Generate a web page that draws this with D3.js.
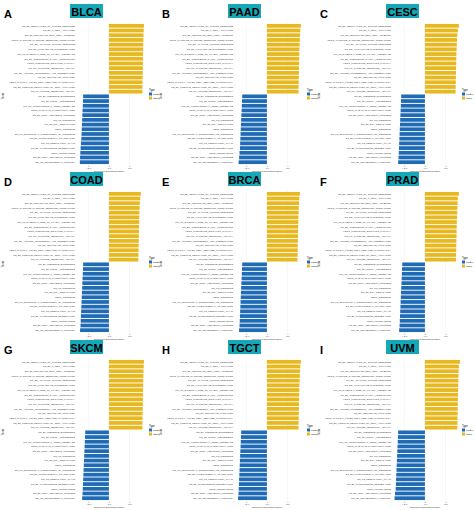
<!DOCTYPE html>
<html><head><meta charset="utf-8">
<script src="https://cdn.jsdelivr.net/npm/d3@7"></script>
<style>body{margin:0;background:#fff}svg{font-family:Arial,"Liberation Sans",sans-serif}</style>
</head><body><svg id="fig" width="474" height="510"></svg>
<script>
// Data
const cancers = ["BLCA","PAAD","CESC","COAD","BRCA","PRAD","SKCM","TGCT","UVM"];
const letters = ["A","B","C","D","E","F","G","H","I"];
const posTerms = ["GO_BP_REGULATION_OF_IMMUNE_RESPONSE","GO_BP_T_CELL_ACTIVATION","GO_BP_LEUKOCYTE_CELL_CELL_ADHESION","KEGG_CYTOKINE_CYTOKINE_RECEPTOR_INTERACTION","GO_BP_ADAPTIVE_IMMUNE_RESPONSE","GO_BP_LYMPHOCYTE_DIFFERENTIATION","GO_CC_EXTERNAL_SIDE_OF_PLASMA_MEMBRANE","GO_BP_INTERFERON_GAMMA_PRODUCTION","KEGG_CHEMOKINE_SIGNALING_PATHWAY","GO_MF_CYTOKINE_RECEPTOR_ACTIVITY","GO_BP_ANTIGEN_PROCESSING_AND_PRESENTATION","GO_BP_LEUKOCYTE_MIGRATION","KEGG_NATURAL_KILLER_CELL_MEDIATED_CYTOTOXICITY","GO_BP_POSITIVE_REGULATION_OF_CELL_ACTIVATION","GO_MF_IMMUNE_RECEPTOR_ACTIVITY"];
const negTerms = ["GO_BP_RIBOSOME_BIOGENESIS","GO_BP_NCRNA_PROCESSING","GO_CC_MITOCHONDRIAL_INNER_MEMBRANE","KEGG_OXIDATIVE_PHOSPHORYLATION","GO_BP_RRNA_METABOLIC_PROCESS","GO_CC_RIBOSOME","GO_BP_DNA_REPLICATION","KEGG_RIBOSOME","GO_MF_STRUCTURAL_CONSTITUENT_OF_RIBOSOME","GO_BP_MITOCHONDRIAL_TRANSLATION","GO_CC_RESPIRATORY_CHAIN","GO_BP_CHROMOSOME_SEGREGATION","KEGG_PROTEASOME","GO_BP_TRNA_METABOLIC_PROCESS","GO_CC_SPLICEOSOMAL_COMPLEX"];
const posVals = [
 [3.4,3.38,3.36,3.35,3.34,3.33,3.32,3.31,3.3,3.3,3.29,3.28,3.27,3.26,3.25],
 [3.3,3.25,3.22,3.2,3.18,3.16,3.15,3.14,3.13,3.12,3.11,3.1,3.09,3.08,3.07],
 [3.3,3.2,3.15,3.12,3.1,3.08,3.06,3.05,3.04,3.03,3.02,3.01,3.0,2.99,2.98],
 [3.1,3.05,3.0,2.98,2.96,2.95,2.94,2.93,2.92,2.91,2.9,2.89,2.88,2.87,2.86],
 [3.2,3.15,3.12,3.1,3.08,3.06,3.05,3.04,3.03,3.02,3.01,3.0,2.99,2.98,2.97],
 [3.3,3.2,3.18,3.16,3.14,3.12,3.1,3.09,3.08,3.07,3.06,3.05,3.04,3.03,3.02],
 [3.4,3.38,3.36,3.35,3.34,3.33,3.32,3.31,3.3,3.3,3.29,3.28,3.27,3.26,3.25],
 [3.3,3.25,3.22,3.2,3.18,3.16,3.15,3.14,3.13,3.12,3.11,3.1,3.09,3.08,3.07],
 [3.4,3.3,3.28,3.26,3.25,3.24,3.23,3.22,3.21,3.2,3.19,3.18,3.17,3.16,3.15]];
const negVals = [
 [-2.5,-2.52,-2.54,-2.56,-2.58,-2.6,-2.62,-2.64,-2.66,-2.68,-2.72,-2.75,-2.78,-2.8,-2.82],
 [-2.4,-2.42,-2.44,-2.46,-2.48,-2.5,-2.52,-2.54,-2.56,-2.58,-2.6,-2.62,-2.66,-2.7,-2.75],
 [-2.3,-2.32,-2.34,-2.36,-2.38,-2.4,-2.42,-2.44,-2.46,-2.48,-2.5,-2.52,-2.54,-2.56,-2.6],
 [-2.5,-2.52,-2.54,-2.56,-2.58,-2.6,-2.62,-2.64,-2.66,-2.68,-2.7,-2.72,-2.74,-2.76,-2.8],
 [-2.4,-2.42,-2.44,-2.46,-2.48,-2.5,-2.52,-2.54,-2.56,-2.58,-2.6,-2.62,-2.64,-2.66,-2.7],
 [-2.2,-2.22,-2.24,-2.26,-2.28,-2.3,-2.32,-2.34,-2.36,-2.38,-2.4,-2.42,-2.44,-2.46,-2.5],
 [-2.3,-2.32,-2.34,-2.36,-2.38,-2.4,-2.42,-2.44,-2.46,-2.48,-2.5,-2.52,-2.54,-2.56,-2.6],
 [-2.5,-2.52,-2.54,-2.56,-2.58,-2.6,-2.62,-2.64,-2.66,-2.68,-2.7,-2.72,-2.74,-2.76,-2.8],
 [-2.6,-2.62,-2.64,-2.66,-2.68,-2.7,-2.72,-2.74,-2.76,-2.78,-2.8,-2.82,-2.84,-2.9,-2.95]];
const xTicks = [-2,0,2];
const typeLabels = ["negative","positive"];
const colors = {negative:"#1f6bb5", positive:"#e8b820"};

const svg = d3.select("#fig");
const pw = 158, ph = 168;

cancers.forEach((name, k) => {
  const px = (k % 3) * pw, py = Math.floor(k / 3) * ph;
  const g = svg.append("g").attr("transform", `translate(${px},${py})`);
  const data = posTerms.map((t, i) => ({term: t, v: posVals[k][i], type: "positive"}))
    .concat(negTerms.map((t, i) => ({term: t, v: negVals[k][i], type: "negative"})));

  const x = d3.scaleLinear().domain([-3.1, 3.7]).range([77, 147]);
  const y = d3.scaleBand().domain(data.map(d => d.term)).range([23, 165]).padding(0.2);

  g.append("text").attr("x", 4).attr("y", 18).attr("font-size", 11).attr("font-weight", "bold").text(letters[k]);
  g.append("rect").attr("x", 70).attr("y", 4).attr("width", 33).attr("height", 14).attr("fill", "#17a8b8");
  g.append("text").attr("x", 86.5).attr("y", 15.5).attr("text-anchor", "middle")
    .attr("font-size", 11).attr("font-weight", "bold").text(name);

  // grid
  g.append("g").selectAll("line").data(xTicks).join("line")
    .attr("x1", d => x(d)).attr("x2", d => x(d)).attr("y1", 22).attr("y2", 166)
    .attr("stroke", "#ebebeb").attr("stroke-width", 0.4);

  g.append("g").selectAll("rect").data(data).join("rect")
    .attr("x", d => x(Math.min(0, d.v))).attr("width", d => Math.abs(x(d.v) - x(0)))
    .attr("y", d => y(d.term)).attr("height", y.bandwidth())
    .attr("fill", d => colors[d.type]);

  g.append("g").selectAll("text").data(data).join("text")
    .attr("x", 75).attr("y", d => y(d.term) + y.bandwidth() / 2 + 0.8)
    .attr("text-anchor", "end").attr("font-size", 2.3).attr("fill", "#444").text(d => d.term);

  const ax = g.append("g").attr("transform", "translate(0,166)")
    .call(d3.axisBottom(x).tickValues(xTicks).tickSize(1).tickPadding(0.5));
  ax.select(".domain").remove();
  ax.selectAll("line").attr("stroke", "#555").attr("stroke-width", 0.4);
  ax.selectAll("text").attr("font-size", 2.5).attr("fill", "#444");
  g.append("text").attr("x", x(0)).attr("y", 172.3).attr("text-anchor", "middle")
    .attr("font-size", 2.3).attr("fill", "#333").text("Normalized Enrichment Score");
  g.append("text").attr("transform", "translate(4,96) rotate(-90)").attr("text-anchor", "middle")
    .attr("font-size", 3).attr("fill", "#333").text("Term");

  // legend
  const lgx = Math.min(149, 474 - px - 12);
  const lg = g.append("g").attr("transform", `translate(${lgx},91)`);
  lg.append("text").attr("y", 0).attr("font-size", 2.6).text("Type");
  typeLabels.forEach((t, i) => {
    lg.append("rect").attr("x", 0).attr("y", 1.5 + i * 4).attr("width", 3).attr("height", 3).attr("fill", colors[t]);
    lg.append("text").attr("x", 4).attr("y", 4 + i * 4).attr("font-size", 1.9).text(t);
  });
});
</script></body></html>
